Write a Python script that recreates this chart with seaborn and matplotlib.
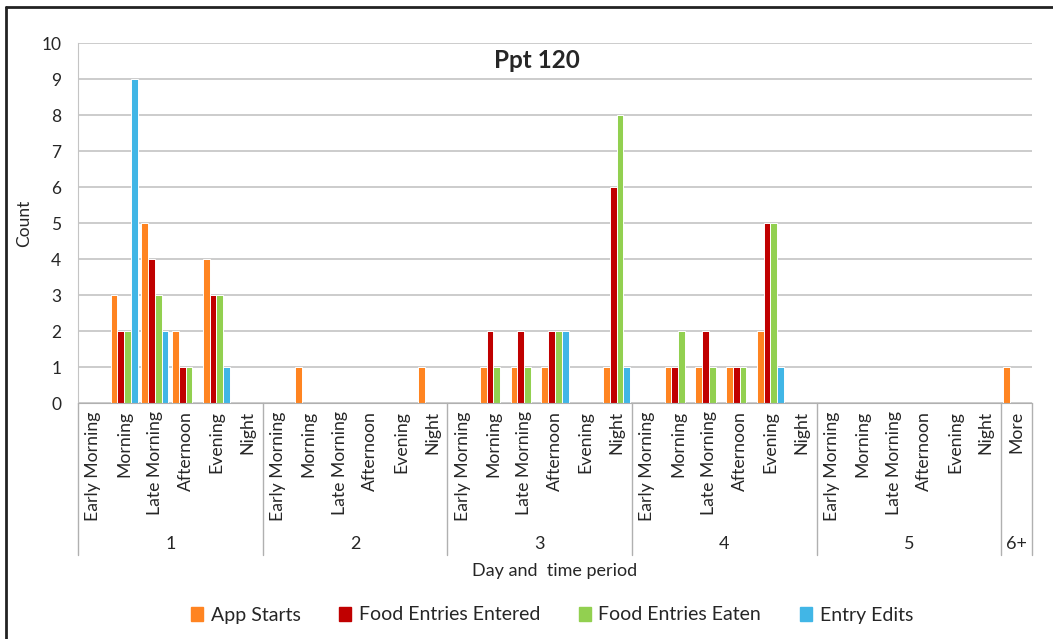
import pandas as pd
import numpy as np
import matplotlib.pyplot as plt
import seaborn as sns
from matplotlib.transforms import blended_transform_factory
from matplotlib.patches import Rectangle

# ---- data ----
days = ['1', '2', '3', '4', '5', '6+']
periods = ['Early Morning', 'Morning', 'Late Morning', 'Afternoon', 'Evening', 'Night']
series = ['App Starts', 'Food Entries Entered', 'Food Entries Eaten', 'Entry Edits']
colors = ['#FF8421', '#C00000', '#92D050', '#41B6E6']

# one value per category: days 1-5 x 6 periods, then 6+ "More"
app_starts = [0, 3, 5, 2, 4, 0,
              0, 1, 0, 0, 0, 1,
              0, 1, 1, 1, 0, 1,
              0, 1, 1, 1, 2, 0,
              0, 0, 0, 0, 0, 0,
              1]
food_entered = [0, 2, 4, 1, 3, 0,
                0, 0, 0, 0, 0, 0,
                0, 2, 2, 2, 0, 6,
                0, 1, 2, 1, 5, 0,
                0, 0, 0, 0, 0, 0,
                0]
food_eaten = [0, 2, 3, 1, 3, 0,
              0, 0, 0, 0, 0, 0,
              0, 1, 1, 2, 0, 8,
              0, 2, 1, 1, 5, 0,
              0, 0, 0, 0, 0, 0,
              0]
entry_edits = [0, 9, 2, 0, 1, 0,
               0, 0, 0, 0, 0, 0,
               0, 0, 0, 2, 0, 1,
               0, 0, 0, 0, 1, 0,
               0, 0, 0, 0, 0, 0,
               0]

# category keys and their tick labels
cat_keys = []
cat_labels = []
for d in days[:5]:
    for p in periods:
        cat_keys.append(d + '|' + p)
        cat_labels.append(p)
cat_keys.append('6+|More')
cat_labels.append('More')

df = pd.DataFrame({'cat': cat_keys * 4,
                   'series': np.repeat(series, len(cat_keys)),
                   'count': app_starts + food_entered + food_eaten + entry_edits})

# ---- plot ----
sns.set_style('white')
plt.rcParams['font.family'] = ['Lato', 'DejaVu Sans']

fig = plt.figure(figsize=(10.53, 6.39), dpi=100)
ax = fig.add_axes([78/1053, 1 - 403/639, (1032-78)/1053, (403-43)/639])

sns.barplot(data=df, x='cat', y='count', hue='series', order=cat_keys,
            hue_order=series, palette=colors, width=0.88, saturation=1,
            edgecolor='white', linewidth=0.7, ax=ax)

ax.set_ylim(0, 10)
ax.set_xlim(-0.5, len(cat_keys) - 0.5)
ax.set_yticks(range(0, 11))
ax.yaxis.grid(True, color='#C4C4C4', linewidth=1.2)
ax.set_axisbelow(True)
for s in ['top', 'right']:
    ax.spines[s].set_visible(False)
ax.spines['left'].set_color('#C4C4C4')
ax.spines['bottom'].set_color('#B0B0B0')
ax.tick_params(axis='y', length=0, labelsize=12.5, pad=12)
ax.tick_params(axis='x', length=0, pad=6)
ax.set_xticks(range(len(cat_keys)))
ax.set_xticklabels(cat_labels, rotation=90, fontsize=12.7, va='top')
ax.set_xlabel('')
ax.set_ylabel('Count', fontsize=12.5)
ax.yaxis.set_label_coords(-46/954, 0.5)
ax.get_legend().remove()

# multi-level category axis: day separators and day labels
trans = blended_transform_factory(ax.transData, ax.transAxes)
bounds = [-0.5, 5.5, 11.5, 17.5, 23.5, 29.5, 30.5]
for b in bounds:
    ax.plot([b, b], [0, -152/360], transform=trans, color='#B0B0B0',
            linewidth=1, clip_on=False)
for i, d in enumerate(days):
    ax.text((bounds[i] + bounds[i+1]) / 2, -141/360, d, transform=trans,
            ha='center', va='center', fontsize=13)

fig.text(555/1053, 1 - 571/639, 'Day and  time period', ha='center',
         va='center', fontsize=13)
fig.text(537/1053, 1 - 61/639, 'Ppt 120', ha='center', va='center',
         fontsize=17.5, fontweight='bold')

# legend
handles = [Rectangle((0, 0), 1, 1, color=c) for c in colors]
fig.legend(handles, series, loc='center', bbox_to_anchor=(552/1053, 1 - 615/639),
           ncol=4, frameon=False, fontsize=14, handlelength=0.6,
           handleheight=0.7, columnspacing=2.0, handletextpad=0.4)

# chart border (top and left visible)
fig.add_artist(plt.Line2D([6/1053, 1], [1 - 7/639, 1 - 7/639],
                          transform=fig.transFigure, color='#222222', linewidth=2))
fig.add_artist(plt.Line2D([6/1053, 6/1053], [0, 1 - 7/639],
                          transform=fig.transFigure, color='#222222', linewidth=2))

fig.savefig('out.png', dpi=100)
